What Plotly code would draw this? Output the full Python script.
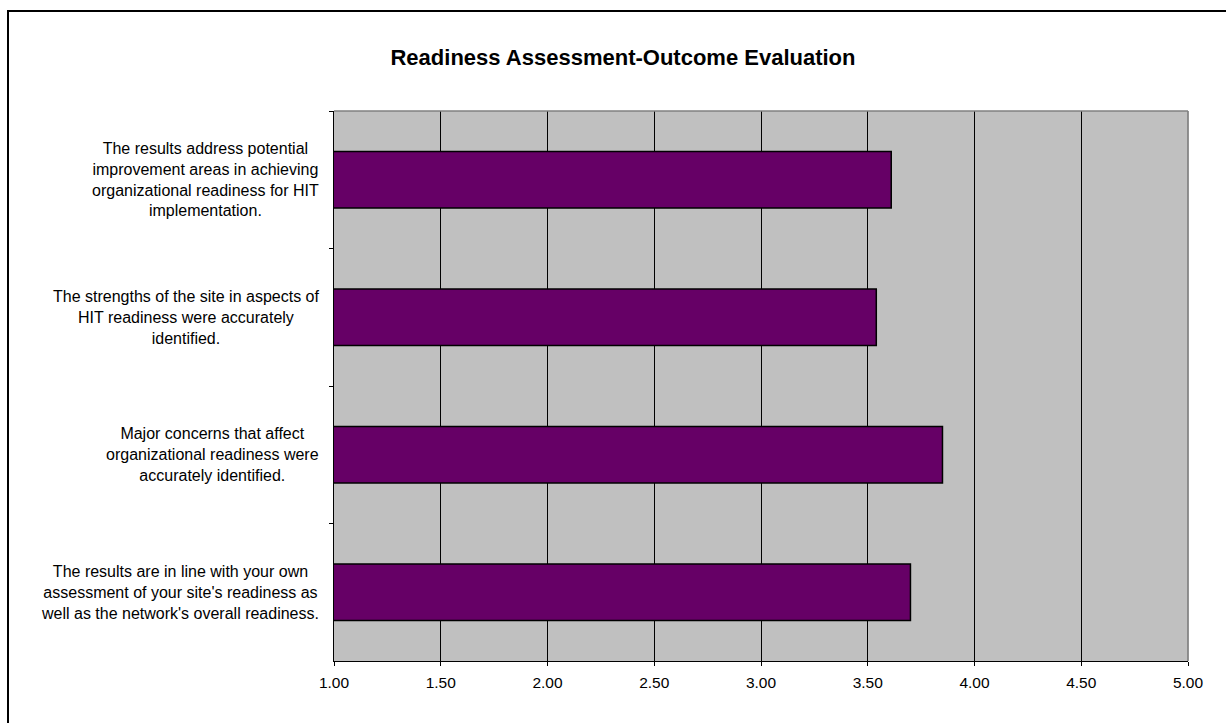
import plotly.graph_objects as go

# Survey statements (top to bottom) and their mean ratings on a 1-5 scale
statements = [
    "The results address potential<br>improvement areas in achieving<br>organizational readiness for HIT<br>implementation.",
    "The strengths of the site in aspects of<br>HIT readiness were accurately<br>identified.",
    "Major concerns that affect<br>organizational readiness were<br>accurately identified.",
    "The results are in line with your own<br>assessment of your site's readiness as<br>well as the network's overall readiness.",
]
mean_scores = [3.61, 3.54, 3.85, 3.70]
x_ticks = [1.0, 1.5, 2.0, 2.5, 3.0, 3.5, 4.0, 4.5, 5.0]
x_tick_labels = [f"{v:.2f}" for v in x_ticks]

W, H = 1226, 723
M_L, M_R, M_T, M_B = 334, 38, 111, 62
PW, PH = W - M_L - M_R, H - M_T - M_B


def px_x(p):
    return (p - M_L) / PW


def px_y(p):
    return (H - M_B - p) / PH


FONT = "Liberation Sans, Arial, sans-serif"

fig = go.Figure(
    go.Bar(
        x=mean_scores,
        y=statements,
        orientation="h",
        width=0.41,
        marker=dict(color="#660066", line=dict(color="#000000", width=1.5)),
        hovertemplate="%{x:.2f}<extra></extra>",
    )
)

fig.update_layout(
    width=W,
    height=H,
    margin=dict(l=M_L, r=M_R, t=M_T, b=M_B, autoexpand=False),
    paper_bgcolor="#ffffff",
    plot_bgcolor="#c0c0c0",
    showlegend=False,
    font=dict(family=FONT, color="#000000"),
    title=dict(
        text="<b>Readiness Assessment-Outcome Evaluation</b>",
        font=dict(family=FONT, size=22, color="#000000"),
        xref="container",
        x=623 / W,
        xanchor="center",
        yref="container",
        y=1 - 57 / H,
        yanchor="middle",
    ),
    xaxis=dict(
        range=[1, 5],
        tickvals=x_ticks,
        ticktext=x_tick_labels,
        showgrid=True,
        gridcolor="#000000",
        gridwidth=1,
        zeroline=False,
        showline=True,
        linecolor="#000000",
        linewidth=1,
        ticks="outside",
        ticklen=4,
        tickcolor="#000000",
        tickfont=dict(family=FONT, size=15.5, color="#000000"),
        ticklabelstandoff=3,
        fixedrange=True,
    ),
    yaxis=dict(
        type="category",
        categoryorder="array",
        categoryarray=statements,
        autorange="reversed",
        showgrid=False,
        zeroline=False,
        showline=True,
        linecolor="#000000",
        linewidth=1,
        ticks="outside",
        tickson="boundaries",
        ticklen=4,
        tickcolor="#000000",
        showticklabels=False,
        fixedrange=True,
    ),
)

# category labels, centred line by line, right-aligned to the axis
for s in statements:
    fig.add_annotation(
        text=s,
        xref="paper",
        x=px_x(321),
        xanchor="right",
        yref="y",
        y=s,
        yanchor="middle",
        align="center",
        showarrow=False,
        font=dict(family=FONT, size=16, color="#000000"),
    )

# grey top and right edges of the plot area
fig.add_shape(type="line", xref="paper", yref="paper", x0=0, x1=1, y0=1, y1=1,
              line=dict(color="#808080", width=1.7), layer="above")
fig.add_shape(type="line", xref="paper", yref="paper", x0=1, x1=1, y0=0, y1=1,
              line=dict(color="#808080", width=1.7), layer="above")

# chart-area frame
fig.add_shape(type="rect", xref="paper", yref="paper",
              x0=px_x(8), x1=px_x(1245), y0=px_y(740), y1=px_y(11),
              line=dict(color="#000000", width=2), fillcolor="rgba(0,0,0,0)",
              layer="above")

fig.write_html("out.html", config={"displayModeBar": False})
